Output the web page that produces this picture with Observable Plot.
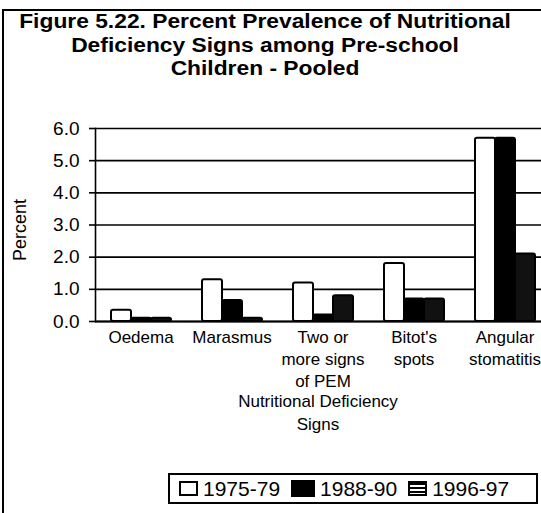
<!DOCTYPE html>
<html>
<head>
<meta charset="utf-8">
<script src="https://cdn.jsdelivr.net/npm/d3@7"></script>
<script src="https://cdn.jsdelivr.net/npm/@observablehq/plot@0.6"></script>
<style>
  html, body { margin: 0; padding: 0; background: #fff; overflow: hidden; width: 541px; height: 513px; }
  body { position: relative; font-family: "Liberation Sans", Arial, sans-serif; color: #000; }
  #frame { position: absolute; left: 2px; top: 9px; width: 700px; height: 700px; border-left: 2px solid #000; border-top: 2px solid #000; box-sizing: border-box; }
  #title { position: absolute; left: 0; top: 10px; width: 530px; text-align: center; font-weight: bold; font-size: 20px; line-height: 23.5px; transform: scaleX(1.14); transform-origin: 265px 0; }
  #chart { position: absolute; left: 0; top: 100px; width: 560px; }
  #chart svg { max-width: none !important; }
  #ylabel { position: absolute; left: 20px; top: 230px; transform: translate(-50%, -50%) rotate(-90deg); font-size: 18px; white-space: nowrap; }
  #xtitle { position: absolute; left: 218px; top: 391px; width: 200px; text-align: center; font-size: 17px; line-height: 22.5px; }
  #legend { position: absolute; left: 168px; top: 473px; width: 370px; height: 31px; border: 2px solid #000; box-sizing: border-box; display: flex; align-items: center; padding-left: 9px; font-size: 21px; }
  .item { display: flex; align-items: center; margin-right: 11px; }
  .sw { width: 19px; height: 15px; border: 2px solid #000; box-sizing: border-box; margin-right: 5px; }
</style>
</head>
<body>
<div id="frame"></div>
<div id="title">Figure 5.22. Percent Prevalence of Nutritional<br>Deficiency Signs among Pre-school<br>Children - Pooled</div>
<div id="chart"></div>
<div id="ylabel">Percent</div>
<div id="xtitle">Nutritional Deficiency<br>Signs</div>
<div id="legend"></div>
<script>
const categories = ["Oedema", "Marasmus", "Two or more signs of PEM", "Bitot's spots", "Angular stomatitis"];
const categoryLabels = ["Oedema", "Marasmus", "Two or\nmore signs\nof PEM", "Bitot's\nspots", "Angular\nstomatitis"];
const years = ["1975-79", "1988-90", "1996-97"];
const v1975 = [0.35, 1.3, 1.2, 1.8, 5.7];
const v1988 = [0.1, 0.65, 0.2, 0.7, 5.7];
const v1996 = [0.1, 0.1, 0.8, 0.7, 2.1];
const yTicks = [0, 1, 2, 3, 4, 5, 6];

const series = [v1975, v1988, v1996];
const data = categories.flatMap((c, i) => years.map((y, j) => ({category: c, year: y, value: series[j][i]})));
const fills = ["#ffffff", "#000000", "#111111"];

const chart = Plot.plot({
  width: 560,
  height: 300,
  marginLeft: 95,
  marginRight: 10,
  marginTop: 28,
  marginBottom: 79,
  style: {fontFamily: "'Liberation Sans', Arial, sans-serif", fontSize: "17px", color: "#000", background: "transparent", maxWidth: "none"},
  fx: {domain: categories, padding: 0, label: null},
  x: {domain: years, paddingInner: 0, paddingOuter: 0.667, axis: null},
  y: {domain: [0, 6]},
  color: {domain: years, range: fills},
  marks: [
    Plot.gridY(yTicks, {stroke: "#000", strokeOpacity: 1, strokeWidth: 1.6}),
    Plot.barY(data, {fx: "category", x: "year", y: "value", fill: "year", stroke: "#000", strokeWidth: 2, rx: 2}),
    Plot.ruleY([0], {stroke: "#000", strokeWidth: 2}),
    Plot.frame({anchor: "left", facet: "super", stroke: "#000", strokeWidth: 1.6}),
    Plot.axisY(yTicks, {tickFormat: d => d.toFixed(1), tickSize: 6, tickPadding: 10, strokeWidth: 1.6, label: null, fontSize: 19}),
    Plot.axisFx({anchor: "bottom", tickSize: 0, tickPadding: 6, lineHeight: 1.3, label: null, tickFormat: d => categoryLabels[categories.indexOf(d)]})
  ]
});
document.getElementById("chart").appendChild(chart);

const legend = document.getElementById("legend");
years.forEach((y, j) => {
  const item = document.createElement("div");
  item.className = "item";
  const sw = document.createElement("div");
  sw.className = "sw";
  if (j === 2) sw.style.background = "repeating-linear-gradient(to bottom, #000 0 2px, #fff 2px 4px)";
  else sw.style.background = fills[j];
  if (j === 1) { sw.style.width = "24px"; sw.style.height = "17px"; }
  item.appendChild(sw);
  const t = document.createElement("span");
  t.textContent = y;
  item.appendChild(t);
  legend.appendChild(item);
});
</script>
</body>
</html>
